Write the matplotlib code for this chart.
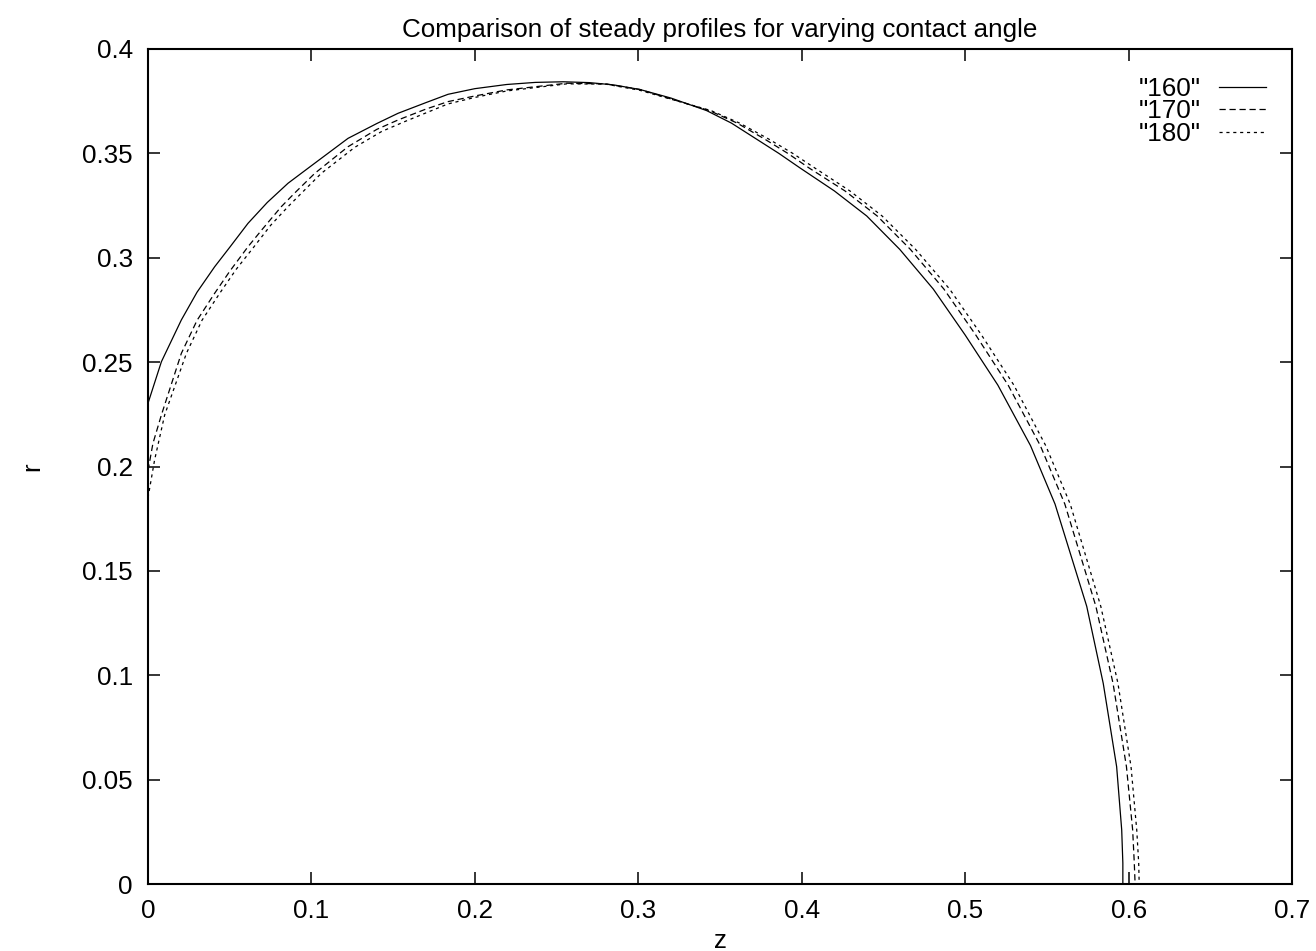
import matplotlib
matplotlib.use("Agg")
from matplotlib import pyplot as plt

plt.rcParams['font.family'] = ['Liberation Sans', 'DejaVu Sans']

# profiles: z (axial) and r (radius)
z160 = [0.0, 0.0082, 0.0204, 0.03, 0.0408, 0.05, 0.0612, 0.073, 0.0857, 0.1,
        0.1224, 0.14, 0.153, 0.17, 0.1836, 0.2, 0.2195, 0.237, 0.254, 0.27,
        0.285, 0.301, 0.32, 0.3418, 0.357, 0.372, 0.386, 0.399, 0.42, 0.4398,
        0.46, 0.4805, 0.50, 0.52, 0.54, 0.555, 0.5744, 0.5845, 0.5927, 0.5958,
        0.5965, 0.5965]
r160 = [0.2303, 0.2502, 0.2702, 0.2835, 0.2957, 0.3050, 0.3165, 0.3265, 0.3357, 0.3441,
        0.3572, 0.3643, 0.3692, 0.3743, 0.3783, 0.3810, 0.3830, 0.3840, 0.3843, 0.3839,
        0.3828, 0.3806, 0.3765, 0.3705, 0.3645, 0.3570, 0.3500, 0.3430, 0.3320, 0.3200,
        0.3040, 0.2850, 0.2630, 0.2390, 0.2100, 0.1820, 0.1330, 0.0961, 0.0562, 0.0259,
        0.0100, 0.0]

z170 = [0.0, 0.003, 0.0082, 0.0204, 0.03, 0.0408, 0.05, 0.0612, 0.07, 0.0816,
        0.09, 0.102, 0.1224, 0.14, 0.153, 0.17, 0.1836, 0.2, 0.2195, 0.2562,
        0.28, 0.301, 0.3435, 0.3605, 0.377, 0.3915, 0.4045, 0.4265, 0.4462, 0.4665,
        0.487, 0.5065, 0.5263, 0.546, 0.561, 0.580, 0.5905, 0.5987, 0.6025, 0.6035,
        0.604]
r170 = [0.198, 0.211, 0.2247, 0.2542, 0.2700, 0.2830, 0.2935, 0.3053, 0.3137, 0.3245,
        0.3312, 0.3404, 0.3532, 0.3615, 0.3660, 0.3712, 0.3748, 0.3775, 0.3804, 0.3836,
        0.3833, 0.3806, 0.3705, 0.3645, 0.3570, 0.3500, 0.3430, 0.3320, 0.3200, 0.3040,
        0.2850, 0.2630, 0.2390, 0.2100, 0.1820, 0.1330, 0.0961, 0.0562, 0.0259, 0.0100,
        0.0]

z180 = [0.0, 0.004, 0.0102, 0.0235, 0.033, 0.0439, 0.054, 0.0649, 0.075, 0.0857,
        0.095, 0.106, 0.1265, 0.143, 0.157, 0.172, 0.1836, 0.2, 0.2195, 0.2562,
        0.28, 0.301, 0.3445, 0.362, 0.3795, 0.3945, 0.408, 0.4295, 0.4492, 0.4697,
        0.4905, 0.51, 0.5298, 0.5493, 0.5643, 0.583, 0.5935, 0.6015, 0.605, 0.6062,
        0.6065]
r180 = [0.185, 0.203, 0.2247, 0.2542, 0.2700, 0.2830, 0.2945, 0.3053, 0.3155, 0.3245,
        0.3318, 0.3404, 0.3529, 0.3605, 0.3652, 0.3700, 0.3737, 0.3768, 0.3799, 0.3833,
        0.3832, 0.3802, 0.3705, 0.3645, 0.3570, 0.3500, 0.3430, 0.3320, 0.3200, 0.3040,
        0.2850, 0.2630, 0.2390, 0.2100, 0.1820, 0.1330, 0.0961, 0.0562, 0.0259, 0.0100,
        0.0]

xticks = [0, 0.1, 0.2, 0.3, 0.4, 0.5, 0.6, 0.7]
xtick_labels = ['0', '0.1', '0.2', '0.3', '0.4', '0.5', '0.6', '0.7']
yticks = [0, 0.05, 0.1, 0.15, 0.2, 0.25, 0.3, 0.35, 0.4]
ytick_labels = ['0', '0.05', '0.1', '0.15', '0.2', '0.25', '0.3', '0.35', '0.4']

fs = 18.7

fig = plt.figure(figsize=(13.16, 9.51), dpi=100)
ax = fig.add_axes([148/1316, 1 - 884/951, (1292 - 148)/1316, (884 - 49)/951])

ax.plot(z160, r160, color='black', lw=0.9, label='"160"')
ax.plot(z170, r170, color='black', lw=0.9, linestyle=(0, (5, 3)), label='"170"')
ax.plot(z180, r180, color='black', lw=0.9, linestyle=(0, (2.5, 3)), label='"180"')

ax.set_xlim(0, 0.7)
ax.set_ylim(0, 0.4)
ax.set_xticks(xticks)
ax.set_xticklabels(xtick_labels)
ax.set_yticks(yticks)
ax.set_yticklabels(ytick_labels)
ax.tick_params(direction='in', top=True, right=True, length=8.5, width=1.1,
               labelsize=fs, pad=11)
for s in ax.spines.values():
    s.set_linewidth(1.5)

ax.set_xlabel('z', fontsize=fs, labelpad=4)
ax.set_ylabel('r', fontsize=fs, labelpad=27)
ax.set_title('Comparison of steady profiles for varying contact angle',
             fontsize=fs, pad=8.5)

ax.legend(loc='upper right', bbox_to_anchor=(1266/1316, 1 - 77/951),
          bbox_transform=fig.transFigure, frameon=False, markerfirst=False,
          fontsize=fs, handlelength=1.81, handletextpad=0.7,
          labelspacing=-0.06, borderpad=0, borderaxespad=0)

fig.savefig('out.png', dpi=100)
